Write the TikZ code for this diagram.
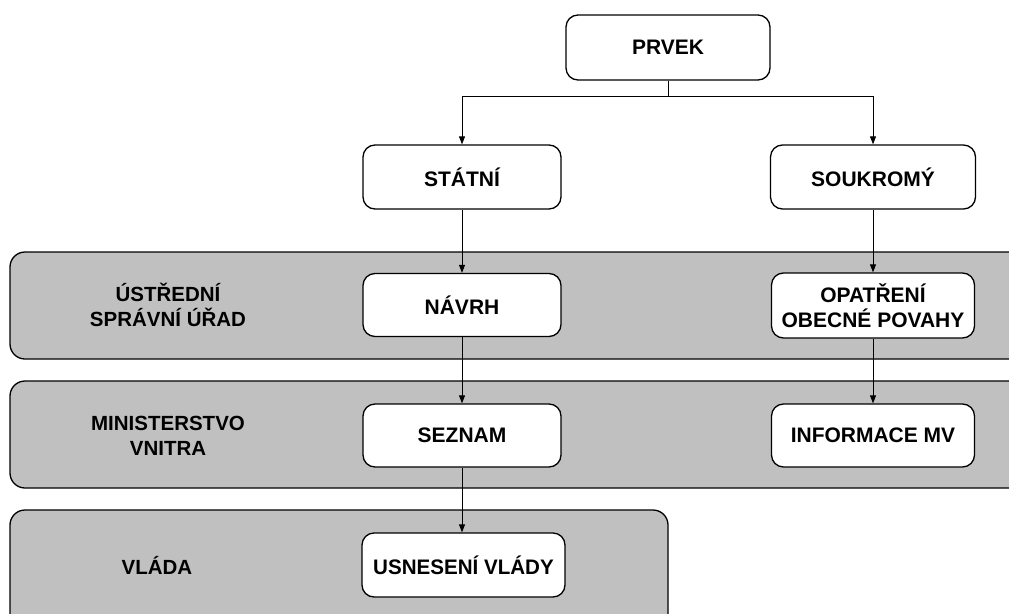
\documentclass[tikz,border=0pt]{standalone}
\usepackage{fontspec}
\setmainfont{Liberation Sans}
\usetikzlibrary{arrows.meta}
\definecolor{bandgray}{HTML}{C0C0C0}
\begin{document}
\begin{tikzpicture}[x=1pt,y=-1pt,
  box/.style={draw=black,line width=1.3pt,fill=white,rounded corners=12pt,
    minimum height=64pt,align=center,inner sep=0pt,
    font=\fontsize{21}{25}\selectfont\bfseries},
  band/.style={draw=black,line width=1.3pt,fill=bandgray,rounded corners=15pt},
  bandlabel/.style={align=center,font=\fontsize{20.5}{25}\selectfont\bfseries},
  conn/.style={line width=0.9pt,draw=black},
  arr/.style={conn,-{Triangle[length=8pt,width=6pt]}}]
\useasboundingbox (0,0) rectangle (1009,613);
\clip (0,0) rectangle (1009,613);
% bands
\path[band] (10,252) rectangle (1040,359);
\path[band] (10,381) rectangle (1040,488);
\path[band] (10,510) rectangle (668,630);
\node[bandlabel] (l1) at (168,305) {ÚSTŘEDNÍ\\SPRÁVNÍ ÚŘAD};
\node[bandlabel] (l2) at (168,436) {MINISTERSTVO\\VNITRA};
\node[bandlabel] (l3) at (157,565) {VLÁDA};
% nodes
\node[box,minimum width=204pt,minimum height=65pt] (prvek) at (668,47.5) {PRVEK};
\node[box,minimum width=198pt] (statni) at (462,177) {STÁTNÍ};
\node[box,minimum width=205pt] (soukromy) at (873,177) {SOUKROMÝ};
\node[box,minimum width=198pt,minimum height=63pt] (navrh) at (462,305) {NÁVRH};
\node[box,minimum width=203pt,minimum height=65pt] (opatreni) at (873,305.5) {OPATŘENÍ\\OBECNÉ POVAHY};
\node[box,minimum width=198pt,minimum height=63pt] (seznam) at (462,435.5) {SEZNAM};
\node[box,minimum width=203pt,minimum height=63pt] (info) at (873,435.5) {INFORMACE MV};
\node[box,minimum width=203pt] (usneseni) at (463.5,565) {\scalebox{0.98}[1]{USNESENÍ VLÁDY}};
% connectors
\coordinate (split) at (668,96);
\draw[conn] (prvek.south) -- (split);
\draw[arr] (split) -| (statni.north);
\draw[arr] (split) -| (soukromy.north);
\draw[arr] (statni.south) -- (navrh.north);
\draw[arr] (navrh.south) -- (seznam.north);
\draw[arr] (seznam.south) -- (seznam.south |- usneseni.north);
\draw[arr] (soukromy.south) -- (opatreni.north);
\draw[arr] (opatreni.south) -- (info.north);
\end{tikzpicture}
\end{document}
